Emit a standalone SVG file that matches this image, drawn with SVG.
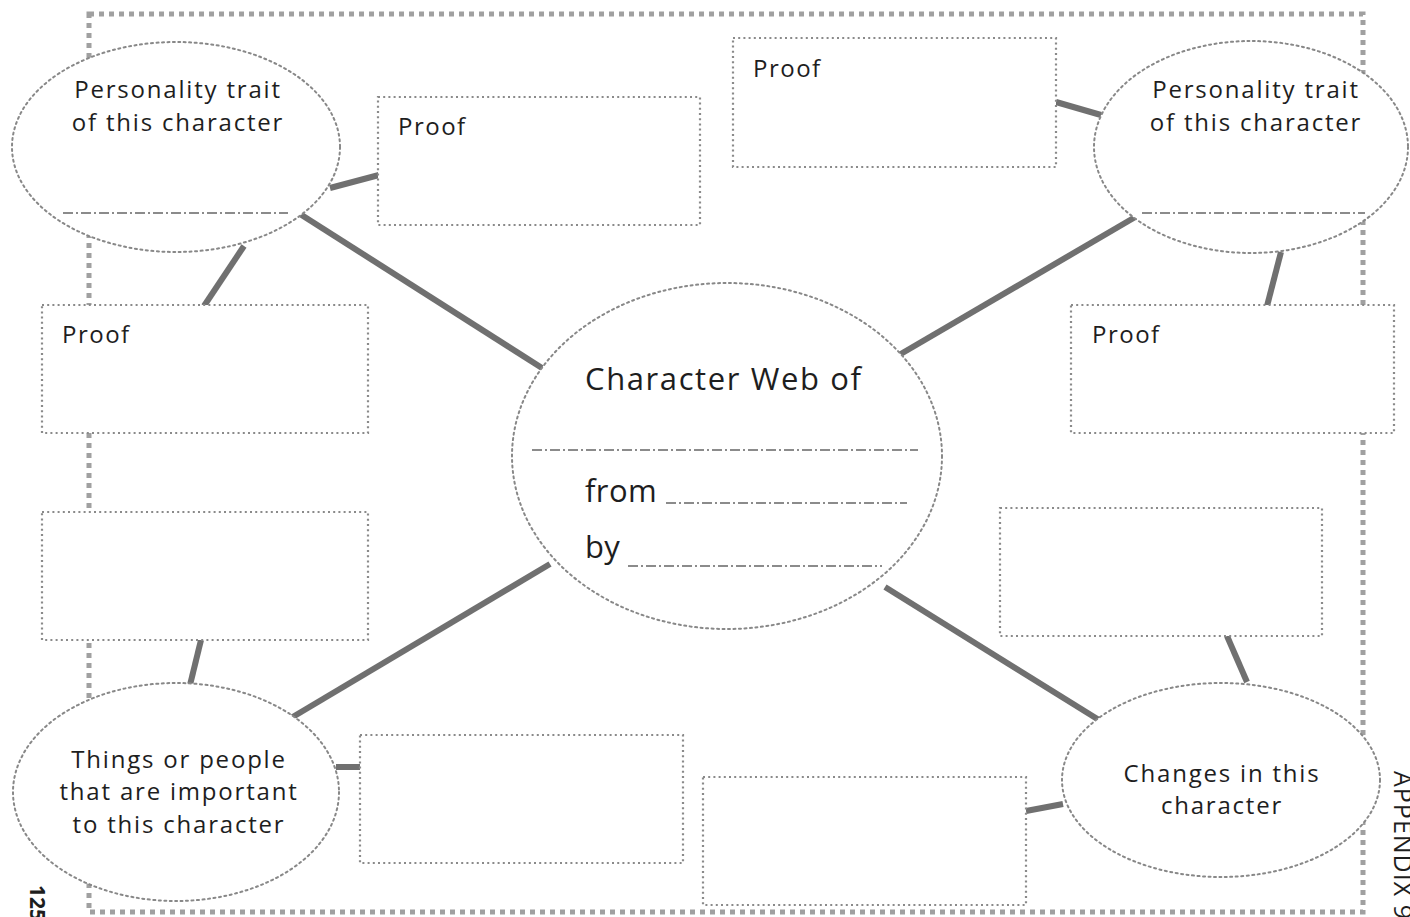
<svg xmlns="http://www.w3.org/2000/svg" width="1410" height="917" viewBox="0 0 1410 917">
<style>
.frame{fill:none;stroke:#a0a0a0;stroke-width:5;stroke-dasharray:5 5}
.ell{fill:#fff;stroke:#888;stroke-width:2;stroke-dasharray:2 3.5;stroke-linecap:round}
.box{fill:#fff;stroke:#8a8a8a;stroke-width:2.2;stroke-dasharray:2 3.2}
.conn{stroke:#707070;stroke-width:6;stroke-linecap:butt}
.dd{stroke:#666;stroke-width:1.3;stroke-dasharray:10 3 2 3;fill:none}
text{font-family:"Open Sans","Liberation Sans",sans-serif;fill:#1e1e1e}
.lbl{font-size:24px;text-anchor:middle;letter-spacing:1.8px}
.proof{font-size:24px;letter-spacing:1.5px}
.big{font-size:31px;letter-spacing:1.6px}
.tight{letter-spacing:0.4px}
</style>
<rect width="1410" height="917" fill="#fff"/>
<g id="page-frame">
<rect class="frame" x="89" y="14" width="1274" height="898"/>
</g>
<g id="connectors">
<line class="conn" x1="300" y1="214" x2="542" y2="368"/>
<line class="conn" x1="1137" y1="216" x2="899" y2="355"/>
<line class="conn" x1="291" y1="718" x2="550" y2="564"/>
<line class="conn" x1="885" y1="587" x2="1099" y2="720"/>
<line class="conn" x1="330" y1="188" x2="379" y2="175"/>
<line class="conn" x1="244" y1="246" x2="204" y2="306"/>
<line class="conn" x1="1056" y1="102" x2="1101" y2="115"/>
<line class="conn" x1="1281" y1="252" x2="1267" y2="306"/>
<line class="conn" x1="201" y1="640" x2="190" y2="685"/>
<line class="conn" x1="336" y1="767" x2="361" y2="767"/>
<line class="conn" x1="1227" y1="636" x2="1247" y2="682"/>
<line class="conn" x1="1026" y1="811" x2="1063" y2="804"/>
</g>
<g id="trait-left">
<ellipse class="ell" cx="176" cy="147" rx="164" ry="105"/>
<text class="lbl" x="178" y="98">Personality trait</text>
<text class="lbl" x="178" y="131">of this character</text>
<line class="dd" x1="63" y1="213" x2="288" y2="213"/>
</g>
<g id="trait-right">
<ellipse class="ell" cx="1251" cy="147" rx="157" ry="106"/>
<text class="lbl" x="1256" y="98">Personality trait</text>
<text class="lbl" x="1256" y="131">of this character</text>
<line class="dd" x1="1142" y1="213" x2="1365" y2="213"/>
</g>
<g id="center">
<ellipse class="ell" cx="727" cy="456" rx="215" ry="173"/>
<text class="big" x="585" y="390">Character Web of</text>
<line class="dd" x1="532" y1="450" x2="918" y2="450"/>
<text class="big tight" x="585" y="502">from</text>
<line class="dd" x1="666" y1="503" x2="907" y2="503"/>
<text class="big tight" x="585" y="558">by</text>
<line class="dd" x1="628" y1="566" x2="882" y2="566"/>
</g>
<g id="important">
<ellipse class="ell" cx="176" cy="792" rx="163" ry="109"/>
<text class="lbl" x="179" y="768">Things or people</text>
<text class="lbl" x="179" y="800">that are important</text>
<text class="lbl" x="179" y="833">to this character</text>
</g>
<g id="changes">
<ellipse class="ell" cx="1221" cy="780" rx="159" ry="97"/>
<text class="lbl" x="1222" y="782">Changes in this</text>
<text class="lbl" x="1222" y="814">character</text>
</g>
<g id="proof-top-left">
<rect class="box" x="378" y="97" width="322" height="128"/>
<text class="proof" x="398" y="135">Proof</text>
</g>
<g id="proof-top-center">
<rect class="box" x="733" y="38" width="323" height="129"/>
<text class="proof" x="753" y="77">Proof</text>
</g>
<g id="proof-left">
<rect class="box" x="42" y="305" width="326" height="128"/>
<text class="proof" x="62" y="343">Proof</text>
</g>
<g id="box-left">
<rect class="box" x="42" y="512" width="326" height="128"/>
</g>
<g id="proof-right">
<rect class="box" x="1071" y="305" width="323" height="128"/>
<text class="proof" x="1092" y="343">Proof</text>
</g>
<g id="box-right">
<rect class="box" x="1000" y="508" width="322" height="128"/>
</g>
<g id="box-bottom-mid">
<rect class="box" x="360" y="735" width="323" height="128"/>
</g>
<g id="box-bottom-right">
<rect class="box" x="703" y="777" width="323" height="128"/>
</g>
<g id="page-marks">
<text x="885" y="-30" transform="rotate(90)" font-size="21" font-weight="bold">125</text>
<text x="771" y="-1394" transform="rotate(90)" font-size="25" letter-spacing="1">APPENDIX 9</text>
</g>
</svg>
